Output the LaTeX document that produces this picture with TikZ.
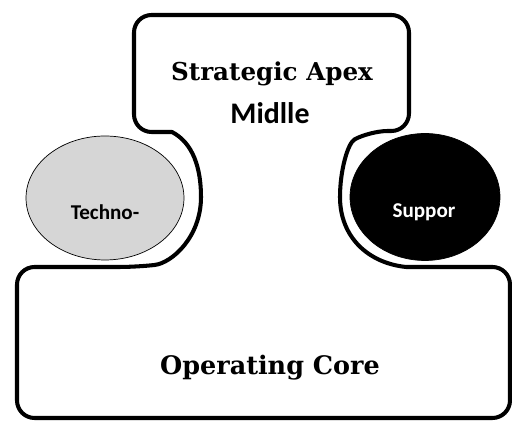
\documentclass[tikz,border=0pt]{standalone}
\usepackage{fontspec}
\setmainfont{DejaVu Serif}
\newfontfamily\calib{Carlito}
\usepackage{xcolor}
\usepackage{tikz}
\usetikzlibrary{shapes.geometric}
\definecolor{hatchgray}{RGB}{214,214,214}

\begin{document}
\begin{tikzpicture}[x=0.02cm, y=-0.02cm,
    outline/.style={draw=black, line width=2.3pt, line join=round},
    unit/.style={ellipse, draw=black, inner sep=0pt},
    serifname/.style={anchor=base, font=\bfseries\fontsize{14}{16}\selectfont},
    sansname/.style={anchor=base, font=\calib\bfseries}]
    \useasboundingbox (0,0) rectangle (512,421);

    % Outline of the organisation
    \draw[outline] (172,132) [rounded corners=10pt] -- (134,132) -- (134,15) -- (409,15) -- (409,131) -- (370,131)
        [sharp corners] .. controls (348,143) and (340,170) .. (340,197)
        .. controls (340,237) and (368,263) .. (406,267)
        [rounded corners=10pt] -- (510,267) -- (510,418) -- (17,418) -- (17,267) -- (137,267)
        [sharp corners] .. controls (172,263) and (201,237) .. (201,197)
        .. controls (201,168) and (193,143) .. (172,132) -- cycle;

    % Top: strategic apex
    \node[serifname] (apex) at (272,81) {Strategic Apex};
    \node[sansname, font=\calib\bfseries\fontsize{17}{19}\selectfont] (middle) at (270,124) {Midlle};

    % Left: technostructure
    \node[unit, fill=hatchgray, minimum width=3.16cm, minimum height=2.48cm] (techno) at (105,198) {};
    \node[sansname, font=\calib\bfseries\fontsize{12}{14}\selectfont] (technolbl) at (105,220) {Techno-};

    % Right: support staff
    \node[unit, fill=black, minimum width=3.0cm, minimum height=2.54cm] (support) at (425,197) {};
    \node[sansname, text=white, font=\calib\bfseries\fontsize{12}{14}\selectfont] (supportlbl) at (424,218) {Suppor};

    % Bottom: operating core
    \node[serifname, font=\bfseries\fontsize{14.5}{16}\selectfont] (core) at (270,375) {Operating Core};
\end{tikzpicture}
\end{document}
